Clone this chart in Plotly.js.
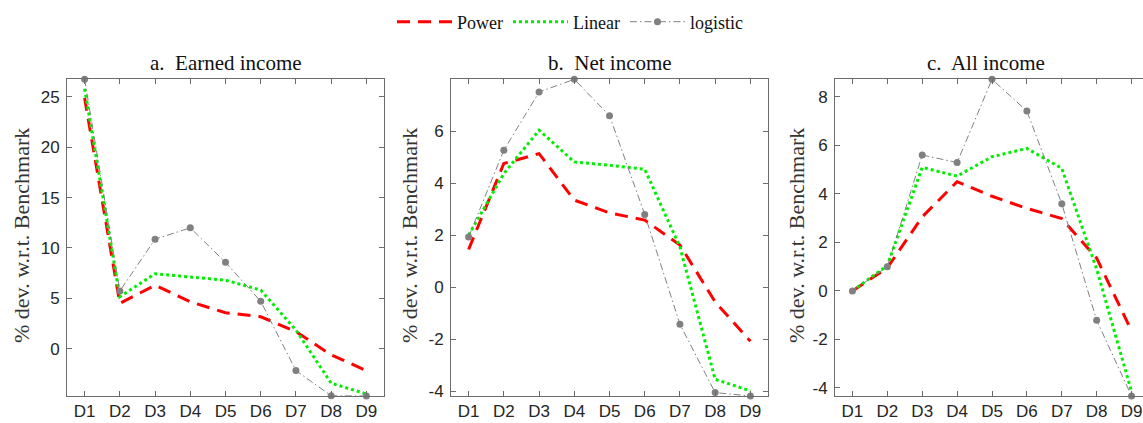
<!DOCTYPE html>
<html>
<head>
<meta charset="utf-8">
<script src="https://cdn.plot.ly/plotly-3.0.1.min.js"></script>
<style>
html,body{margin:0;padding:0;overflow:hidden;background:#fff;}
#chart{width:1160px;height:423px;}
</style>
</head>
<body>
<div id="chart"></div>
<script>
// ---- data ----
const categories = ["D1","D2","D3","D4","D5","D6","D7","D8","D9"];

const earnedPower    = [24.9, 4.5, 6.3, 4.66, 3.57, 3.17, 1.69, -0.62, -2.18];
const earnedLinear   = [25.8, 5.16, 7.44, 7.14, 6.8, 5.82, 1.85, -3.43, -4.5];
const earnedLogistic = [26.75, 5.72, 10.87, 12.0, 8.57, 4.7, -2.18, -4.68, -4.7];

const netPower    = [1.45, 4.76, 5.14, 3.35, 2.86, 2.58, 1.62, -0.57, -2.08];
const netLinear   = [2.0, 4.37, 6.04, 4.82, 4.69, 4.54, 1.55, -3.55, -3.99];
const netLogistic = [1.93, 5.27, 7.51, 8.0, 6.6, 2.8, -1.43, -4.06, -4.19];

const allPower    = [0, 0.95, 3.05, 4.5, 3.9, 3.4, 2.98, 1.35, -1.65];
const allLinear   = [0, 1.05, 5.09, 4.73, 5.53, 5.87, 5.05, 0.9, -4.15];
const allLogistic = [0, 1.0, 5.6, 5.29, 8.72, 7.41, 3.59, -1.21, -4.33];

const panelTitles = ["a.\u00a0 Earned income", "b.\u00a0 Net income", "c.\u00a0 All income"];
const seriesNames = ["Power", "Linear", "logistic"];
const yTitle = "% dev. w.r.t. Benchmark";

const earnedTicks = [0, 5, 10, 15, 20, 25];
const netTicks = [-4, -2, 0, 2, 4, 6];
const allTicks = [-4, -2, 0, 2, 4, 6, 8];

// ---- layout ----
const W = 1160, H = 423;
const panels = [
  {p: earnedPower, l: earnedLinear, g: earnedLogistic, ticks: earnedTicks, x0: 67,  x1: 384, lab: 21,  tx: 225.5},
  {p: netPower,    l: netLinear,    g: netLogistic,    ticks: netTicks,    x0: 451, x1: 768, lab: 409, tx: 609.5},
  {p: allPower,    l: allLinear,    g: allLogistic,    ticks: allTicks,    x0: 835, x1: 1149, lab: 796, tx: 986}
];
const yTop = 79.3, yBot = 396;

const traces = [];
const layout = {
  width: W, height: H,
  margin: {l: 0, r: 0, t: 0, b: 0},
  paper_bgcolor: "#fff", plot_bgcolor: "#fff",
  showlegend: true,
  legend: {orientation: "h", x: 570 / W, xanchor: "center", y: 1 - 22 / H, yanchor: "middle",
           font: {family: "Liberation Serif, serif", size: 18, color: "#111"}, itemwidth: 55,
           bgcolor: "rgba(0,0,0,0)"},
  annotations: []
};

const axCommon = {
  showline: true, linecolor: "#6b6b6b", linewidth: 1, mirror: "ticks",
  ticks: "inside", ticklen: 5, tickcolor: "#6b6b6b", tickwidth: 1,
  showgrid: false, zeroline: false, fixedrange: true,
  tickfont: {family: "Liberation Sans, Arial, sans-serif", size: 17, color: "#262626"}
};

panels.forEach((pn, i) => {
  const n = i === 0 ? "" : String(i + 1);
  const xa = "x" + n, ya = "y" + n;
  const all = pn.p.concat(pn.l, pn.g);
  const ymin = Math.min(...all), ymax = Math.max(...all);
  layout["xaxis" + n] = Object.assign({}, axCommon, {
    domain: [pn.x0 / W, pn.x1 / W], anchor: ya, type: "category",
    range: [-0.5, categories.length - 0.5], ticklabelstandoff: 0
  });
  layout["yaxis" + n] = Object.assign({}, axCommon, {
    domain: [1 - yBot / H, 1 - yTop / H], anchor: xa,
    range: [ymin, ymax], tickvals: pn.ticks, ticktext: pn.ticks.map(v => String(v)),
    ticklabelstandoff: 3
  });
  traces.push({
    x: categories, y: pn.p, xaxis: xa, yaxis: ya, name: seriesNames[0], mode: "lines",
    line: {color: "#ff0000", width: 3, dash: "13px,8px"}, showlegend: i === 0, legendgroup: "p", cliponaxis: false
  });
  traces.push({
    x: categories, y: pn.l, xaxis: xa, yaxis: ya, name: seriesNames[1], mode: "lines",
    line: {color: "#00ee00", width: 3, dash: "dot"}, showlegend: i === 0, legendgroup: "l", cliponaxis: false
  });
  traces.push({
    x: categories, y: pn.g, xaxis: xa, yaxis: ya, name: seriesNames[2], mode: "lines+markers",
    line: {color: "#808080", width: 1, dash: "7px,3px,1.5px,3px"},
    marker: {color: "#808080", size: 7, symbol: "circle"},
    showlegend: i === 0, legendgroup: "g", cliponaxis: false
  });
  layout.annotations.push({
    text: panelTitles[i], xref: "paper", yref: "paper", x: pn.tx / W, y: 1 - 63 / H,
    xanchor: "center", yanchor: "middle", showarrow: false,
    font: {family: "Liberation Serif, serif", size: 21, color: "#111"}
  });
  layout.annotations.push({
    text: yTitle, xref: "paper", yref: "paper", x: pn.lab / W, y: 1 - 236 / H,
    xanchor: "center", yanchor: "middle", showarrow: false, textangle: -90,
    font: {family: "Liberation Serif, serif", size: 22, color: "#333"}
  });
});

Plotly.newPlot("chart", traces, layout, {displayModeBar: false, staticPlot: true});
</script>
</body>
</html>
